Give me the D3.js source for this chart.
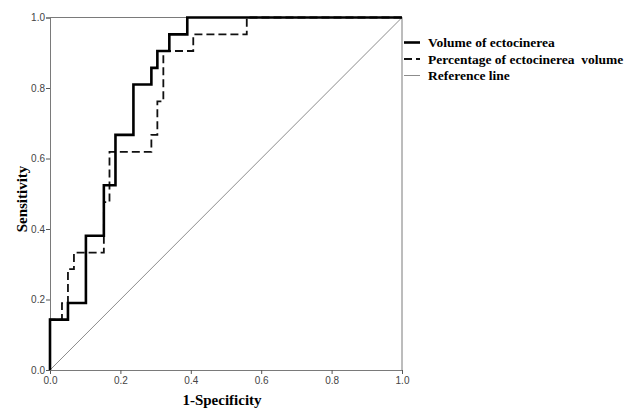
<!DOCTYPE html>
<html>
<head>
<meta charset="utf-8">
<script src="https://cdnjs.cloudflare.com/ajax/libs/d3/7.8.5/d3.min.js"></script>
<style>
  body { margin: 0; background: #fff; }
  .tick text { font-family: Arial, "Liberation Sans", sans-serif; font-size: 10px; fill: #444; }
  .title { font-family: "Times New Roman", "Liberation Serif", serif; font-weight: bold; fill: #000; }
</style>
</head>
<body>
<script>
// ROC points (1-specificity, sensitivity)
var volFpr = [0, 0, 0.051, 0.051, 0.102, 0.102, 0.153, 0.153, 0.186, 0.186, 0.237, 0.237, 0.288, 0.288, 0.305, 0.305, 0.339, 0.339, 0.390, 0.390, 1.0];
var volTpr = [0, 0.143, 0.143, 0.190, 0.190, 0.381, 0.381, 0.524, 0.524, 0.667, 0.667, 0.810, 0.810, 0.857, 0.857, 0.905, 0.905, 0.952, 0.952, 1.0, 1.0];

var pctFpr = [0, 0, 0.034, 0.034, 0.051, 0.051, 0.068, 0.068, 0.153, 0.153, 0.169, 0.169, 0.288, 0.288, 0.305, 0.305, 0.322, 0.322, 0.407, 0.407, 0.559, 0.559, 1.0];
var pctTpr = [0, 0.143, 0.143, 0.190, 0.190, 0.286, 0.286, 0.333, 0.333, 0.476, 0.476, 0.619, 0.619, 0.667, 0.667, 0.762, 0.762, 0.905, 0.905, 0.952, 0.952, 1.0, 1.0];

var refLine = [0, 1];
var ticks = [0, 0.2, 0.4, 0.6, 0.8, 1.0];

var legendLabels = ["Volume of ectocinerea", "Percentage of ectocinerea  volume", "Reference line"];

var svgWidth = 630;
var svgHeight = 409;

var margin = { top: 17.5, right: 228, bottom: 39, left: 50 };
var width = svgWidth - margin.left - margin.right;
var height = svgHeight - margin.top - margin.bottom;

var svg = d3.select("body")
  .append("svg")
  .attr("width", svgWidth)
  .attr("height", svgHeight);

var chartGroup = svg.append("g")
  .attr("transform", `translate(${margin.left}, ${margin.top})`);

var x = d3.scaleLinear().domain([0, 1]).range([0, width]);
var y = d3.scaleLinear().domain([0, 1]).range([height, 0]);

// frame (top and right)
chartGroup.append("path")
  .attr("d", `M0,0H${width}V${height}`)
  .attr("fill", "none")
  .attr("stroke", "#7a7a7a")
  .attr("stroke-width", 1);

// axes
var xAxis = chartGroup.append("g")
  .attr("transform", `translate(0, ${height})`)
  .call(d3.axisBottom(x).tickValues(ticks).tickFormat(d3.format(".1f")).tickSize(4).tickPadding(3));

var yAxis = chartGroup.append("g")
  .call(d3.axisLeft(y).tickValues(ticks).tickFormat(d3.format(".1f")).tickSize(4).tickPadding(1));

[xAxis, yAxis].forEach(function (a) {
  a.select(".domain").attr("stroke", "#7a7a7a");
  a.selectAll(".tick line").attr("stroke", "#555");
});

// reference diagonal
var line = d3.line().x(d => x(d[0])).y(d => y(d[1]));

chartGroup.append("path")
  .attr("d", line(refLine.map((v, i) => [v, refLine[i]])))
  .attr("fill", "none")
  .attr("stroke", "#8c8c8c")
  .attr("stroke-width", 1);

// dashed curve
chartGroup.append("path")
  .attr("d", line(pctFpr.map((v, i) => [v, pctTpr[i]])))
  .attr("fill", "none")
  .attr("stroke", "#111")
  .attr("stroke-width", 1.8)
  .attr("stroke-dasharray", "8,4");

// solid curve
chartGroup.append("path")
  .attr("d", line(volFpr.map((v, i) => [v, volTpr[i]])))
  .attr("fill", "none")
  .attr("stroke", "#000")
  .attr("stroke-width", 2.6);

// axis titles
svg.append("text")
  .attr("class", "title")
  .attr("x", 222)
  .attr("y", 405)
  .attr("text-anchor", "middle")
  .style("font-size", "15px")
  .text("1-Specificity");

svg.append("text")
  .attr("class", "title")
  .attr("transform", "translate(27, 199) rotate(-90)")
  .attr("text-anchor", "middle")
  .style("font-size", "15px")
  .text("Sensitivity");

// legend
var legendStyles = [
  { w: 2.6, dash: null, c: "#000" },
  { w: 1.8, dash: "8,4", c: "#111" },
  { w: 1, dash: null, c: "#8c8c8c" }
];

var legend = svg.append("g").attr("transform", "translate(404, 42.5)");

legendLabels.forEach(function (lbl, i) {
  var row = legend.append("g").attr("transform", `translate(0, ${i * 16.5})`);
  row.append("line")
    .attr("x1", 0).attr("x2", 16)
    .attr("y1", 0).attr("y2", 0)
    .attr("stroke", legendStyles[i].c)
    .attr("stroke-width", legendStyles[i].w)
    .attr("stroke-dasharray", legendStyles[i].dash);
  row.append("text")
    .attr("class", "title")
    .attr("x", 24)
    .attr("y", 0)
    .attr("dy", "0.35em")
    .style("font-size", "13.5px")
    .style("white-space", "pre")
    .text(lbl);
});
</script>
</body>
</html>
